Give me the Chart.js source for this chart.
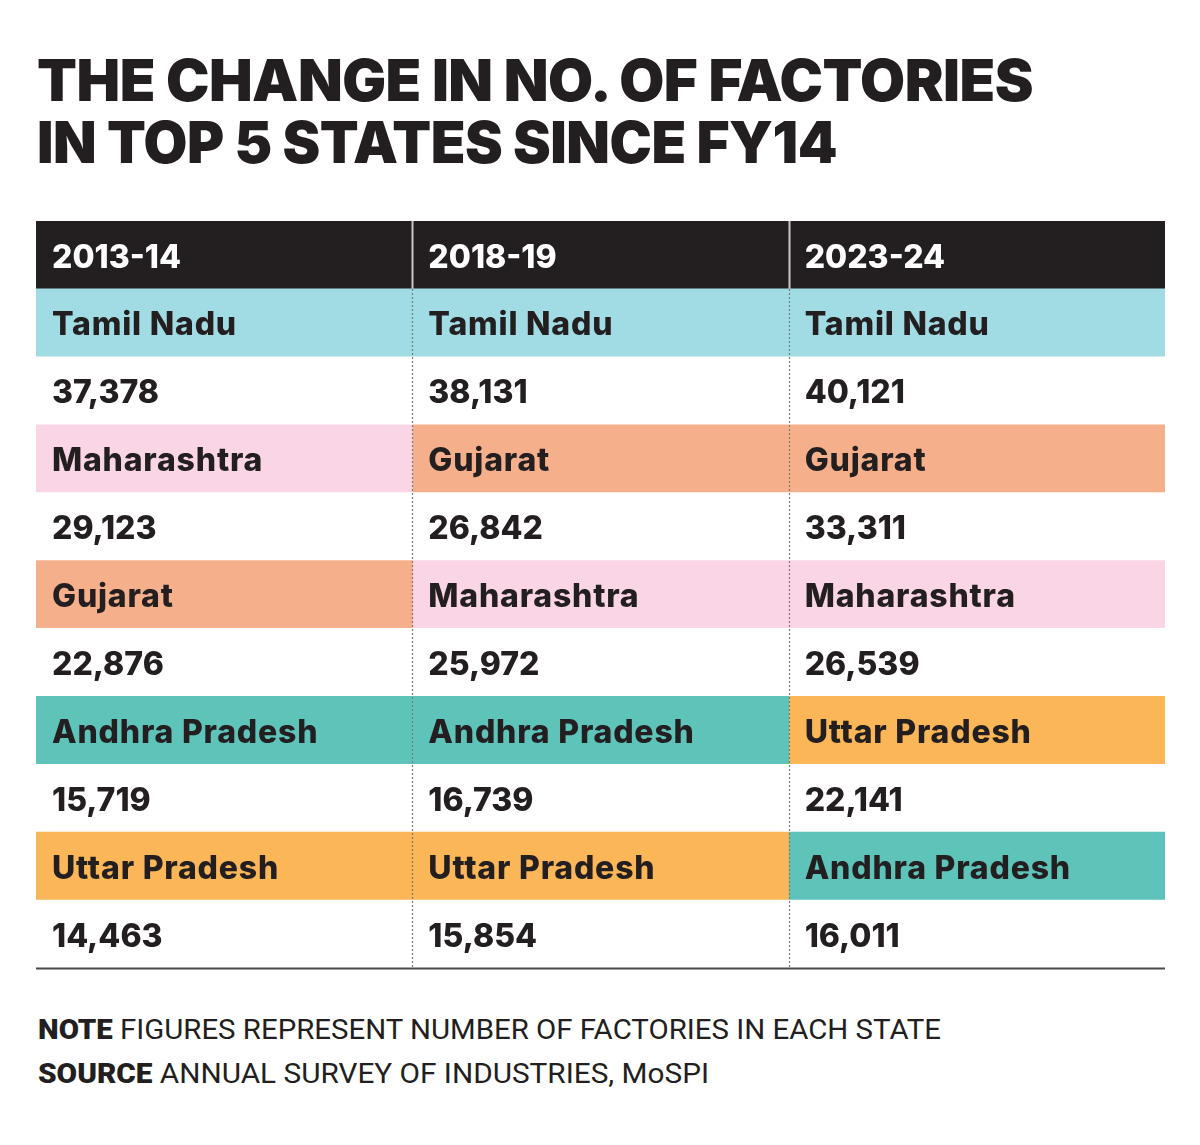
<!DOCTYPE html>
<html>
<head>
<meta charset="utf-8">
<script src="https://cdn.jsdelivr.net/npm/chart.js@4/dist/chart.umd.min.js"></script>
<style>
  html, body { margin: 0; padding: 0; background: #fff; }
  body { width: 1200px; height: 1145px; position: relative; overflow: hidden; color: #231f20; }
  #title {
    position: absolute; left: 37px; top: 49px; margin: 0;
    font-family: "Inter", "Lato", sans-serif; font-weight: 900;
    font-size: 58px; line-height: 62px; letter-spacing: -0.5px;
    white-space: nowrap;
  }
  #title span, #notes div { display: block; transform-origin: left center; }
  #wrap { position: absolute; left: 0; top: 200px; width: 1200px; height: 790px; }
  #notes {
    position: absolute; left: 38px; top: 1008px; margin: 0;
    font-family: "Roboto", "Liberation Sans", sans-serif; font-size: 28px; line-height: 44px;
    white-space: nowrap;
  }
  #notes b { font-weight: 900; }
</style>
</head>
<body>
<h1 id="title"><span>THE CHANGE IN NO. OF FACTORIES</span><span>IN TOP 5 STATES SINCE FY14</span></h1>
<div id="wrap"><canvas id="tbl"></canvas></div>
<div id="notes">
  <div><b>NOTE</b> FIGURES REPRESENT NUMBER OF FACTORIES IN EACH STATE</div>
  <div><b>SOURCE</b> ANNUAL SURVEY OF INDUSTRIES, MoSPI</div>
</div>
<script>
// table data, one column per year
const years = ['2013-14', '2018-19', '2023-24'];
const states1314 = ['Tamil Nadu', 'Maharashtra', 'Gujarat', 'Andhra Pradesh', 'Uttar Pradesh'];
const values1314 = [37378, 29123, 22876, 15719, 14463];
const states1819 = ['Tamil Nadu', 'Gujarat', 'Maharashtra', 'Andhra Pradesh', 'Uttar Pradesh'];
const values1819 = [38131, 26842, 25972, 16739, 15854];
const states2324 = ['Tamil Nadu', 'Gujarat', 'Maharashtra', 'Uttar Pradesh', 'Andhra Pradesh'];
const values2324 = [40121, 33311, 26539, 22141, 16011];

const stateColors = {
  'Tamil Nadu': '#a1dbe4',
  'Maharashtra': '#f9d5e6',
  'Gujarat': '#f5b08b',
  'Andhra Pradesh': '#5ec3b9',
  'Uttar Pradesh': '#fab657'
};
const headerColor = '#231f20';

const columns = [
  { year: years[0], states: states1314, values: values1314 },
  { year: years[1], states: states1819, values: values1819 },
  { year: years[2], states: states2324, values: values2324 }
];

// rows: header + (state, value) x 5
const rowLabels = ['head'];
for (let i = 0; i < 5; i++) { rowLabels.push('s' + i, 'v' + i); }

function cellText(col, r) {
  if (r === 0) return col.year;
  const k = Math.floor((r - 1) / 2);
  return (r % 2 === 1) ? col.states[k] : col.values[k].toLocaleString('en-US');
}
function cellColor(col, r) {
  if (r === 0) return headerColor;
  const k = Math.floor((r - 1) / 2);
  return (r % 2 === 1) ? stateColors[col.states[k]] : '#ffffff';
}

const datasets = columns.map((col, c) => ({
  label: col.year,
  data: rowLabels.map(() => [c, c + 1]),
  backgroundColor: rowLabels.map((_, r) => cellColor(col, r)),
  borderWidth: 0,
  grouped: false,
  categoryPercentage: 1,
  barPercentage: 1
}));

const tablePlugin = {
  id: 'tableText',
  afterDatasetsDraw(chart) {
    const ctx = chart.ctx;
    const xs = chart.scales.x, ys = chart.scales.y;
    const area = chart.chartArea;
    const rowH = (area.bottom - area.top) / rowLabels.length;
    const headBottom = ys.getPixelForValue(0) + rowH / 2;
    ctx.save();
    // column dividers
    for (let c = 1; c < columns.length; c++) {
      const px = Math.round(xs.getPixelForValue(c)) + 0.5;
      ctx.strokeStyle = '#c8c8c8';
      ctx.lineWidth = 2;
      ctx.setLineDash([]);
      ctx.beginPath(); ctx.moveTo(px, area.top); ctx.lineTo(px, headBottom); ctx.stroke();
      ctx.strokeStyle = '#7a7a7a';
      ctx.lineWidth = 1.2;
      ctx.setLineDash([2, 2]);
      ctx.beginPath(); ctx.moveTo(px, headBottom); ctx.lineTo(px, area.bottom); ctx.stroke();
    }
    ctx.setLineDash([]);
    // bottom rule
    ctx.strokeStyle = '#4a4a4a';
    ctx.lineWidth = 2;
    ctx.beginPath(); ctx.moveTo(area.left, area.bottom + 0.5); ctx.lineTo(area.right, area.bottom + 0.5); ctx.stroke();
    // cell text
    ctx.textBaseline = 'middle';
    ctx.textAlign = 'left';
    columns.forEach((col, c) => {
      const x0 = xs.getPixelForValue(c) + 16;
      rowLabels.forEach((_, r) => {
        const y = ys.getPixelForValue(r) + 3;
        ctx.fillStyle = r === 0 ? '#ffffff' : '#231f20';
        ctx.font = '800 32px "Inter", "Lato", sans-serif';
        ctx.letterSpacing = (r % 2 === 1) ? '0.8px' : '0px';
        ctx.fillText(cellText(col, r), x0, y);
      });
    });
    ctx.restore();
  }
};

const canvas = document.getElementById('tbl');
canvas.width = 1200; canvas.height = 790;
new Chart(canvas, {
  type: 'bar',
  data: { labels: rowLabels, datasets: datasets },
  options: {
    indexAxis: 'y',
    responsive: false,
    animation: false,
    devicePixelRatio: 1,
    layout: { padding: { left: 36, right: 35, top: 21, bottom: 22 } },
    scales: {
      x: { type: 'linear', min: 0, max: 3, display: false },
      y: { type: 'category', display: false, offset: true }
    },
    plugins: { legend: { display: false }, tooltip: { enabled: false } }
  },
  plugins: [tablePlugin]
});

// stretch text lines to the reference widths
function stretch(sel, widths) {
  document.querySelectorAll(sel).forEach((s, i) => {
    const range = document.createRange(); range.selectNodeContents(s);
    const tw = range.getBoundingClientRect().width;
    s.style.transform = 'scaleX(' + (widths[i] / tw) + ')';
  });
}
stretch('#title span', [996, 800]);
stretch('#notes div', [903, 671]);
</script>
</body>
</html>
